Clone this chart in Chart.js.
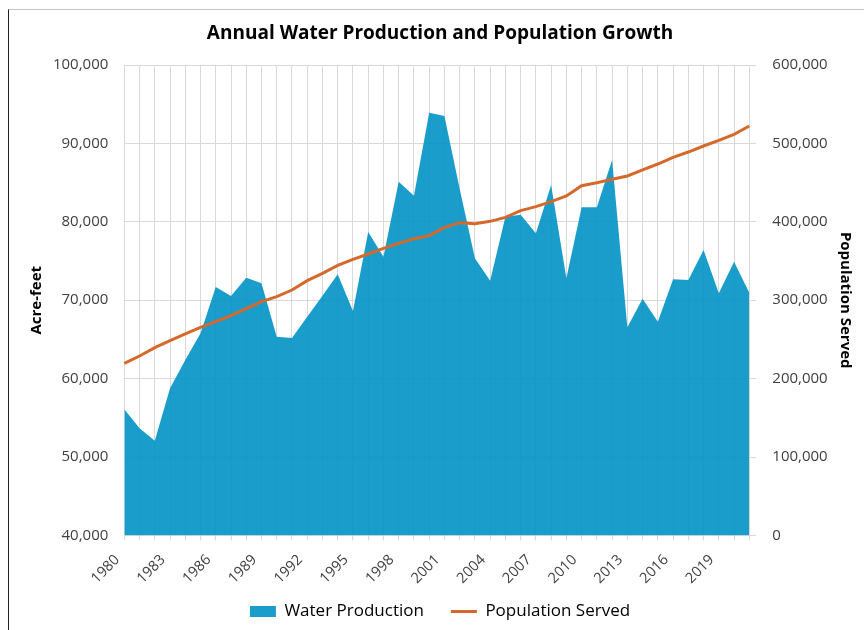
<!DOCTYPE html>
<html><head><meta charset="utf-8">
<script src="https://cdn.jsdelivr.net/npm/chart.js@4"></script>
<style>
html,body{margin:0;padding:0;background:#fff;}
#wrap{position:relative;width:864px;height:630px;overflow:hidden;}
#frame{position:absolute;left:8px;top:9px;right:-2px;bottom:-2px;border-left:1px solid #222;border-top:1px solid #c4c4c4;pointer-events:none;}
</style></head><body>
<div id="wrap"><canvas id="c" width="864" height="630"></canvas><div id="frame"></div></div>
<script>
const years = ['1980','1981','1982','1983','1984','1985','1986','1987','1988','1989',
  '1990','1991','1992','1993','1994','1995','1996','1997','1998','1999',
  '2000','2001','2002','2003','2004','2005','2006','2007','2008','2009',
  '2010','2011','2012','2013','2014','2015','2016','2017','2018','2019',
  '2020','2021'];
const waterProduction = [56100, 53660, 52080, 58760, 62370, 65780, 71680, 70540, 72870, 72150,
  65350, 65180, 67900, 70580, 73300, 68620, 78700, 75550, 85120, 83330,
  93920, 93490, 84200, 75340, 72490, 80650, 80910, 78530, 84690, 72790,
  81850, 81850, 87880, 66540, 70190, 67260, 72660, 72580, 76400, 70880,
  74910, 70960];
const populationServed = [219500, 228800, 239500, 248400, 256900, 265400, 272600, 280300, 289200, 298100,
  304500, 313000, 324900, 334300, 344500, 352100, 358900, 366200, 372500, 378500,
  382300, 392900, 398900, 397600, 400600, 405700, 414200, 419300, 425700, 432900,
  446100, 449900, 454200, 458400, 466100, 473700, 482300, 489000, 496700, 503900,
  511600, 522200];
const leftAxisRange = [40000, 100000, 10000];
const rightAxisRange = [0, 600000, 100000];
const labelEvery = 3;

const FONT = "'Open Sans', 'Noto Sans', sans-serif";
const fmt = v => Number(v).toLocaleString('en-US');

new Chart(document.getElementById('c'), {
  type: 'line',
  data: {
    labels: years,
    datasets: [
      { label: 'Water Production', data: waterProduction, yAxisID: 'y', fill: 'start',
        backgroundColor: 'rgba(2,146,197,0.9)', borderColor: 'rgba(2,146,197,0.9)', borderWidth: 0,
        pointRadius: 0, pointHoverRadius: 0, tension: 0, order: 2, pointStyle: 'rect' },
      { label: 'Population Served', data: populationServed, yAxisID: 'y2', fill: false,
        borderColor: '#d5692c', backgroundColor: '#d5692c', borderWidth: 3,
        pointRadius: 0, pointHoverRadius: 0, tension: 0, order: 1, pointStyle: 'line' }
    ]
  },
  options: {
    responsive: false, animation: false, devicePixelRatio: 1,
    layout: { padding: { left: 16, right: 0, top: 0, bottom: 0 } },
    plugins: {
      title: { display: true, text: 'Annual Water Production and Population Growth', color: '#000',
        font: { family: FONT, size: 19, weight: 'bold' }, padding: { top: 22, bottom: 20.2 } },
      legend: { position: 'bottom',
        labels: { usePointStyle: true, pointStyleWidth: 26, boxHeight: 11, padding: 27, color: '#000',
          font: { family: FONT, size: 17 },
          sort: (a, b) => a.datasetIndex - b.datasetIndex } },
      tooltip: { enabled: false }
    },
    scales: {
      x: {
        grid: { color: '#d9d9d9', tickLength: 5, drawTicks: true },
        border: { color: '#d9d9d9' },
        ticks: { autoSkip: false, minRotation: 45, maxRotation: 45, padding: 11, labelOffset: -7, color: '#404040',
          font: { family: FONT, size: 14.5 },
          callback: function (v, i) { return i % labelEvery === 0 ? this.getLabelForValue(v) : ''; } },
        afterFit: s => { s.height = 40.6; s._computeLabelArea = () => undefined; }
      },
      y: {
        position: 'left', min: leftAxisRange[0], max: leftAxisRange[1],
        ticks: { stepSize: leftAxisRange[2], padding: 16, color: '#404040', font: { family: FONT, size: 15 }, callback: fmt },
        grid: { color: '#d9d9d9', drawTicks: false },
        border: { display: false },
        title: { display: true, text: 'Acre-feet', color: '#000', font: { family: FONT, size: 15, weight: 'bold' }, padding: { top: 12, bottom: 0 } },
        afterFit: s => { s.width = 108.3; }
      },
      y2: {
        position: 'right', min: rightAxisRange[0], max: rightAxisRange[1],
        ticks: { stepSize: rightAxisRange[2], padding: 16, color: '#404040', font: { family: FONT, size: 15 }, callback: fmt },
        grid: { drawOnChartArea: false, color: '#d9d9d9', tickLength: 7, drawTicks: true },
        border: { display: false },
        title: { display: true, text: 'Population Served', color: '#000', font: { family: FONT, size: 15, weight: 'bold' }, padding: { top: 10, bottom: 0 } },
        afterFit: s => { s.width = 114.7; }
      }
    }
  }
});
</script>
</body></html>
